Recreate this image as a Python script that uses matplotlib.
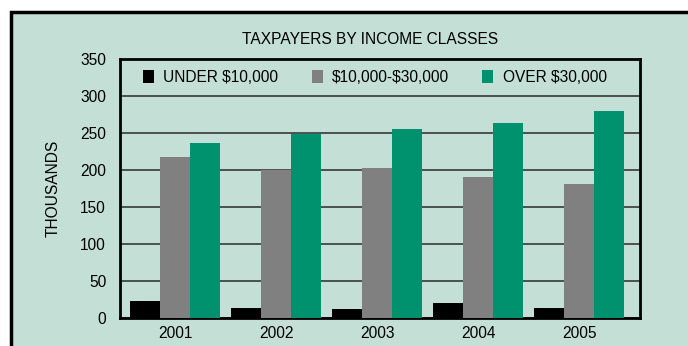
import matplotlib
matplotlib.use("Agg")
import matplotlib.pyplot as plt
from matplotlib.patches import Rectangle
import numpy as np

plt.rcParams['font.family'] = ['Liberation Sans', 'DejaVu Sans']
plt.rcParams['text.parse_math'] = False

# taxpayer counts in thousands
years = ['2001', '2002', '2003', '2004', '2005']
under_10k = [23, 13, 12, 20, 13]
mid_10k_30k = [217, 200, 203, 190, 181]
over_30k = [237, 248, 256, 264, 280]
series_names = ['UNDER $10,000', '$10,000-$30,000', 'OVER $30,000']
yticks = [0, 50, 100, 150, 200, 250, 300, 350]

bg = '#c4e0d6'
colors = ['#000000', '#808080', '#00916e']
fs = 11.2

fig = plt.figure(figsize=(6.88, 3.46), dpi=100, facecolor='white')

# outer panel with black border, running off the right and bottom edges
top = 1 - 12 / 346
panel = Rectangle((11 / 688, -0.2), 1.2, top + 0.2,
                  transform=fig.transFigure, facecolor=bg,
                  edgecolor='black', linewidth=2.5, zorder=-1)
fig.add_artist(panel)

ax = fig.add_axes([120 / 688, 1 - 318 / 346, 520 / 688, 259 / 346])
ax.set_facecolor(bg)

x = np.arange(len(years))
w = 0.297
for i, (vals, c, name) in enumerate(zip([under_10k, mid_10k_30k, over_30k], colors, series_names)):
    ax.bar(x + (i - 1) * w, vals, width=w, color=c, label=name, zorder=3)

ax.set_xlim(-0.545, 4.6)
ax.set_ylim(0, 350)
ax.set_yticks(yticks)
ax.set_xticks(x)
ax.set_xticklabels(years)
ax.tick_params(axis='both', length=0, labelsize=fs, colors='black')
ax.tick_params(axis='y', pad=10)
ax.tick_params(axis='x', pad=6)
ax.yaxis.grid(True, color='#2a2a2a', linewidth=1.1, zorder=1)
ax.set_axisbelow(True)
for s in ax.spines.values():
    s.set_linewidth(2)
    s.set_color('black')

ax.set_ylabel('THOUSANDS', fontsize=fs, labelpad=14)
fig.text(370 / 688, 1 - 39 / 346, 'TAXPAYERS BY INCOME CLASSES',
         ha='center', va='center', fontsize=fs)

leg = ax.legend(loc='center', bbox_to_anchor=(0.49, 0.928), ncol=3,
                frameon=False, fontsize=fs, handlelength=0.7, handleheight=0.9,
                handletextpad=0.6, columnspacing=2.15, borderaxespad=0)

fig.savefig('out.png', dpi=100, facecolor='white')
